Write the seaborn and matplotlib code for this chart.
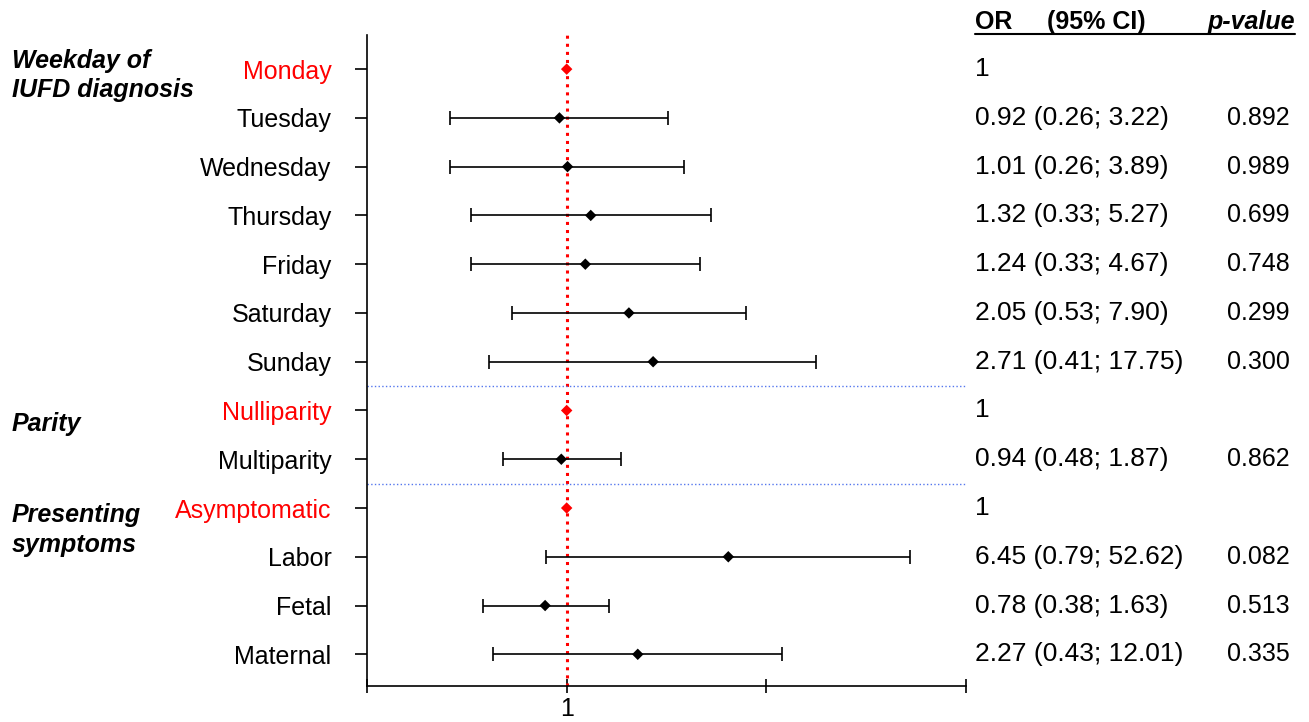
import numpy as np
import pandas as pd
import matplotlib
matplotlib.use("Agg")
import matplotlib.pyplot as plt
import matplotlib.transforms as mtransforms
import seaborn as sns

# rows of the forest plot (top to bottom)
labels = ["Monday", "Tuesday", "Wednesday", "Thursday", "Friday", "Saturday", "Sunday",
          "Nulliparity", "Multiparity",
          "Asymptomatic", "Labor", "Fetal", "Maternal"]
odds = [1, 0.92, 1.01, 1.32, 1.24, 2.05, 2.71, 1, 0.94, 1, 6.45, 0.78, 2.27]
ci_low = [np.nan, 0.26, 0.26, 0.33, 0.33, 0.53, 0.41, np.nan, 0.48, np.nan, 0.79, 0.38, 0.43]
ci_high = [np.nan, 3.22, 3.89, 5.27, 4.67, 7.90, 17.75, np.nan, 1.87, np.nan, 52.62, 1.63, 12.01]
ci_text = ["1", "0.92 (0.26; 3.22)", "1.01 (0.26; 3.89)", "1.32 (0.33; 5.27)",
           "1.24 (0.33; 4.67)", "2.05 (0.53; 7.90)", "2.71 (0.41; 17.75)",
           "1", "0.94 (0.48; 1.87)",
           "1", "6.45 (0.79; 52.62)", "0.78 (0.38; 1.63)", "2.27 (0.43; 12.01)"]
p_values = ["", "0.892", "0.989", "0.699", "0.748", "0.299", "0.300",
            "", "0.862", "", "0.082", "0.513", "0.335"]
is_ref = [True, False, False, False, False, False, False,
          True, False, True, False, False, False]
groups = ["Weekday of\nIUFD diagnosis", "Parity", "Presenting\nsymptoms"]
group_y = [0.13, 7.27, 9.45]
separators = [6.5, 8.5]

df = pd.DataFrame({"label": labels, "OR": odds, "lo": ci_low, "hi": ci_high,
                   "ref": ["ref" if r else "est" for r in is_ref]})
df["pos"] = np.arange(len(df))

sns.set_style("ticks")
plt.rcParams["font.family"] = ["Liberation Sans", "DejaVu Sans"]
plt.rcParams["font.size"] = 18
for k in ["text.color", "axes.labelcolor", "xtick.color", "ytick.color", "axes.edgecolor"]:
    plt.rcParams[k] = "black"

fig = plt.figure(figsize=(13.09, 7.22), dpi=100)
ax = fig.add_axes([367 / 1309, 1 - 686 / 722, (966 - 367) / 1309, (686 - 35) / 722])

# confidence intervals
est = df[df["ref"] == "est"]
ax.errorbar(est["OR"], est["pos"],
            xerr=[est["OR"] - est["lo"], est["hi"] - est["OR"]],
            fmt="none", ecolor="black", elinewidth=1.2, capsize=5, capthick=1.2)

ax.axvline(1, color="red", ls=":", lw=2.2, zorder=1)
for s in separators:
    ax.axhline(s, color="#5577ee", ls=":", lw=1)

sns.scatterplot(data=df, x="OR", y="pos", hue="ref", palette={"ref": "red", "est": "black"},
                marker="D", s=34, linewidth=0, legend=False, zorder=3, ax=ax)

ax.set_xscale("log")
ax.set_xlim(0.1, 100)
ax.set_ylim(12.65, -0.7)
ax.set_xticks([0.1, 1, 10, 100])
ax.set_xticklabels(["", "1", "", ""])
ax.xaxis.set_minor_locator(matplotlib.ticker.NullLocator())
ax.set_yticks(df["pos"])
ax.set_yticklabels(labels)
for t, r in zip(ax.get_yticklabels(), is_ref):
    t.set_color("red" if r else "black")
ax.tick_params(axis="y", direction="out", length=9, width=1.2, pad=16.5, labelsize=18)
ax.tick_params(axis="x", direction="inout", length=10, width=1.2, pad=3, labelsize=18)
ax.set_xlabel("")
ax.set_ylabel("")
sns.despine(ax=ax)
for sp in ["left", "bottom"]:
    ax.spines[sp].set_linewidth(1.2)

# right-hand table
trans = mtransforms.blended_transform_factory(fig.transFigure, ax.transData)
for i, (c, p) in enumerate(zip(ci_text, p_values)):
    ax.text(975 / 1309, i, c, transform=trans, ha="left", va="center", fontsize=19)
    ax.text(1290 / 1309, i, p, transform=trans, ha="right", va="center", fontsize=18)

hy = 1 - 22 / 722
fig.text(975 / 1309, hy, "OR", ha="left", va="center", fontsize=18, fontweight="bold")
fig.text(1047 / 1309, hy, "(95% CI)", ha="left", va="center", fontsize=18, fontweight="bold")
fig.text(1295 / 1309, hy, "p-value", ha="right", va="center", fontsize=18,
         fontweight="bold", fontstyle="italic")
fig.add_artist(plt.Line2D([975 / 1309, 1295 / 1309], [1 - 34 / 722, 1 - 34 / 722],
                          color="black", lw=1.5))

# group labels on the left
for g, gy in zip(groups, group_y):
    ax.text(12 / 1309, gy, g, transform=trans, ha="left", va="center", fontsize=18,
            fontweight="bold", fontstyle="italic", linespacing=1.3)

fig.savefig("out.png", dpi=100)
